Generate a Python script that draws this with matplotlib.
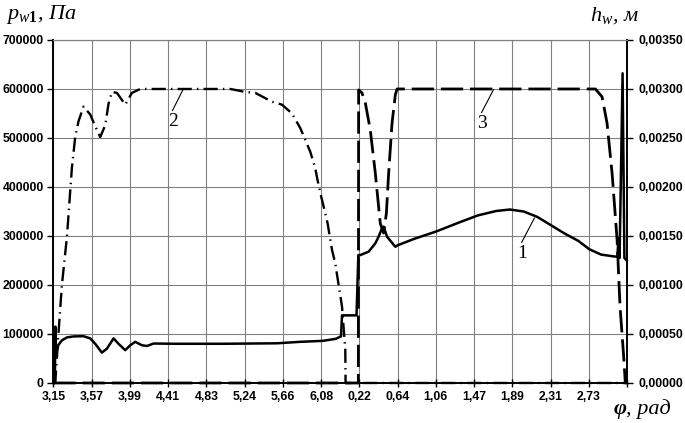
import numpy as np
import matplotlib
matplotlib.use("Agg")
import matplotlib.pyplot as plt

plt.rcParams['mathtext.fontset'] = 'custom'
plt.rcParams['mathtext.it'] = 'Liberation Serif:italic'
plt.rcParams['mathtext.rm'] = 'Liberation Serif'
plt.rcParams['mathtext.bf'] = 'Liberation Serif:bold'

# x axis: phi, unwrapped (3.15 .. 3.15 + 2*pi), labels wrap back to 0
phi_start = 3.15
phi_step = 2 * np.pi / 15
tick_labels = ["3,15", "3,57", "3,99", "4,41", "4,83", "5,24", "5,66", "6,08",
               "0,22", "0,64", "1,06", "1,47", "1,89", "2,31", "2,73", ""]

# curve 1: p_w1, Pa (left axis)
phi_1 = [3.150, 3.165, 3.170, 3.178, 3.205, 3.242, 3.297, 3.369, 3.479, 3.552,
         3.607, 3.680, 3.735, 3.808, 3.862, 3.936, 3.991, 4.045, 4.119, 4.174,
         4.246, 4.500, 5.000, 5.600, 5.854, 6.100, 6.240, 6.300, 6.311, 6.457,
         6.470, 6.490, 6.511, 6.603, 6.676, 6.712, 6.749, 6.767, 6.804, 6.895,
         6.920, 7.100, 7.340, 7.600, 7.800, 8.000, 8.150, 8.300, 8.450, 8.600,
         8.750, 8.900, 9.020, 9.150, 9.300, 9.328, 9.340, 9.352, 9.385, 9.405,
         9.430]
p_w1 = [0, 0, 115000, 60000, 78000, 87000, 93000, 95000, 95500, 91000,
        80000, 62000, 70000, 91000, 80000, 67000, 77000, 84000, 77000, 75500,
        80500, 80000, 80000, 81000, 84000, 86000, 90000, 95000, 138000, 138000,
        138000, 261000, 261000, 268000, 285000, 298600, 315700, 319000, 298600, 278000,
        281000, 294000, 309000, 328000, 342000, 351000, 354000, 350000, 339000, 322000,
        305000, 290000, 273000, 262000, 258000, 258000, 295000, 255000, 632000, 255000,
        250000]

# curve 2: h_w, m (right axis), dash-dot
phi_2 = [3.150, 3.169, 3.205, 3.242, 3.297, 3.352, 3.388, 3.424, 3.479, 3.552,
         3.607, 3.662, 3.717, 3.753, 3.790, 3.845, 3.936, 4.009, 4.100, 4.210,
         5.087, 5.251, 5.361, 5.544, 5.653, 5.763, 5.854, 5.909, 5.963, 6.018,
         6.043, 6.073, 6.128, 6.153, 6.201, 6.237, 6.311, 6.347, 6.350, 9.430]
h_2 = [0, 0, 0.00051, 0.00100, 0.00149, 0.00220, 0.00251, 0.00267, 0.00282, 0.00274,
       0.00262, 0.00251, 0.00263, 0.00285, 0.00297, 0.00296, 0.00284, 0.00296, 0.00300, 0.00300,
       0.00300, 0.00297, 0.00296, 0.00287, 0.00284, 0.00275, 0.00260, 0.00248, 0.00236, 0.00219,
       0.00207, 0.00194, 0.00173, 0.00163, 0.00136, 0.00122, 0.00078, 0.00034, 0, 0]

# curve 3: h_w, m (right axis), dashed
phi_3 = [3.150, 6.490, 6.493, 6.530, 6.566, 6.621, 6.676, 6.730, 6.767, 6.797,
         6.822, 6.859, 6.895, 6.914, 9.087, 9.160, 9.215, 9.270, 9.325, 9.357,
         9.397, 9.415, 9.430]
h_3 = [0, 0, 0.00299, 0.00296, 0.00286, 0.00258, 0.00214, 0.00163, 0.00153, 0.00173,
       0.00214, 0.00265, 0.00294, 0.00300, 0.00300, 0.00292, 0.00265, 0.00214, 0.00146, 0.00078,
       0.00027, 0, 0]

tick_font = dict(family='Liberation Sans', weight='bold', size=8.8)

fig = plt.figure(figsize=(6.85, 4.23), dpi=100)
ax = fig.add_axes([0.0781, 0.0946, 0.8372, 0.8109])
ax2 = ax.twinx()

ax.plot(phi_1, p_w1, color='black', lw=1.8, clip_on=False, zorder=3)
ax2.plot(phi_2, h_2, color='black', lw=1.7, dashes=(6, 2.2, 0.6, 2.2), clip_on=False)
ax2.plot(phi_3, h_3, color='black', lw=2.0, dashes=(8, 2.5), clip_on=False)

xt = [phi_start + k * phi_step for k in range(16)]
ax.set_xlim(phi_start, phi_start + 2 * np.pi)
ax.set_xticks(xt)
ax.set_xticklabels(tick_labels, **tick_font)
ax.set_ylim(0, 700000)
ax.set_yticks(np.arange(0, 700001, 100000))
ax.set_yticklabels([str(int(v)) for v in np.arange(0, 700001, 100000)], **tick_font)
ax2.set_ylim(0, 0.0035)
ax2.set_yticks(np.arange(0, 0.00351, 0.0005))
ax2.set_yticklabels([f"{v:.5f}".replace('.', ',') for v in np.arange(0, 0.00351, 0.0005)], **tick_font)

ax.grid(True, color='#808080', lw=0.8)
ax.set_axisbelow(True)
for a in (ax, ax2):
    a.spines['top'].set_color('#808080')
    a.spines['top'].set_linewidth(0.8)
    a.spines['left'].set_linewidth(1.2)
    a.spines['right'].set_linewidth(1.2)
    a.spines['bottom'].set_linewidth(1.2)
ax.tick_params(axis='y', direction='out', length=4, width=1, pad=3)
ax.tick_params(axis='x', direction='inout', length=6, width=1, pad=3)
ax2.tick_params(axis='y', direction='out', length=4, width=1, pad=4)

# curve labels with leader lines
lead = dict(arrowstyle='-', lw=0.8, color='black', shrinkA=0, shrinkB=0, relpos=(0.3, 1.0))
lab = dict(family='Liberation Serif', size=14, ha='center', va='top')
ax.annotate("2", xy=(4.575, 601000), xytext=(4.459, 550000), arrowprops=lead, **lab)
ax.annotate("3", xy=(7.972, 599000), xytext=(7.845, 546000), arrowprops=lead, **lab)
ax.annotate("1", xy=(8.420, 337000), xytext=(8.284, 281000), arrowprops=lead, **lab)

# axis titles
ttl = dict(family='Liberation Serif', style='italic', va='baseline')
fig.text(6 / 685, 1 - 19 / 423, r'$p_{w\mathbf{1}}$, Па', size=16, **ttl)
fig.text(590 / 685, 1 - 21 / 423, r'$h_{w}$, м', size=16, **ttl)
fig.text(614 / 685, 1 - 414 / 423, 'φ', size=16, weight='bold', **ttl)
fig.text(626 / 685, 1 - 414 / 423, ', рад', size=16, **ttl)

fig.savefig('out.png', dpi=100)
